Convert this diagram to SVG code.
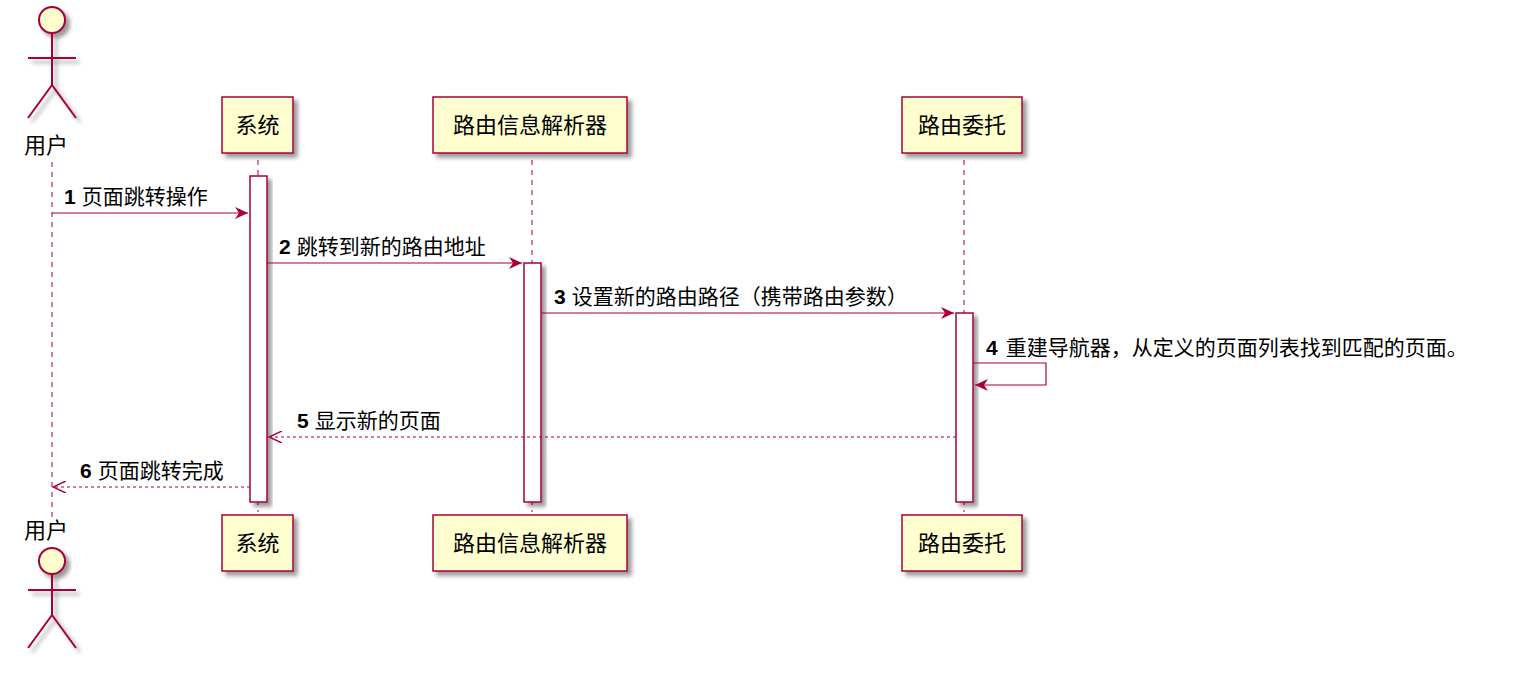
<svg xmlns="http://www.w3.org/2000/svg" width="1518" height="696" viewBox="0 0 1518 696">
<defs>
<filter id="sh" x="-20%" y="-20%" width="150%" height="150%"><feGaussianBlur in="SourceAlpha" stdDeviation="2"/><feOffset dx="4" dy="4"/><feComponentTransfer><feFuncA type="linear" slope="0.4"/></feComponentTransfer><feMerge><feMergeNode/><feMergeNode in="SourceGraphic"/></feMerge></filter>
<marker id="ar" markerWidth="14" markerHeight="12" refX="13" refY="6" orient="auto" markerUnits="userSpaceOnUse"><path d="M0,0 L13,6 L0,12 L4,6 Z" fill="#A80036"/></marker>
<marker id="op" markerWidth="14" markerHeight="12" refX="13" refY="6" orient="auto" markerUnits="userSpaceOnUse"><path d="M0,0 L13,6 L0,12" fill="none" stroke="#A80036" stroke-width="1.5"/></marker>
</defs>
<style>
.box{fill:#FEFECE;stroke:#A80036;stroke-width:1.5;filter:url(#sh)}
.act{fill:#FFFFFF;stroke:#A80036;stroke-width:1.5;filter:url(#sh)}
.life{stroke:#A80036;stroke-width:1;stroke-dasharray:5,5}
.msg{stroke:#A80036;stroke-width:1.2;fill:none}
.t{font-family:"Liberation Sans","Noto Sans CJK SC",sans-serif;font-size:22px;fill:#000}
.m{font-family:"Liberation Sans","Noto Sans CJK SC",sans-serif;font-size:21px;fill:#000}
.a{fill:#FEFECE;stroke:#A80036;stroke-width:2;filter:url(#sh)}
.al{stroke:#A80036;stroke-width:2;fill:none}
</style>
<g id="lifelines">
<line class="life" x1="52" y1="162" x2="52" y2="520"/>
<line class="life" x1="258" y1="160" x2="258" y2="512"/>
<line class="life" x1="532" y1="160" x2="532" y2="512"/>
<line class="life" x1="964" y1="160" x2="964" y2="512"/>
</g>
<g id="user">
<circle class="a" cx="52" cy="20" r="13"/>
<g filter="url(#sh)"><path class="al" d="M52,33 V85 M28,58 H76 M52,85 L28,118 M52,85 L76,118"/></g>
<text class="t" x="46" y="153" text-anchor="middle">用户</text>
<text class="t" x="46" y="538" text-anchor="middle">用户</text>
<circle class="a" cx="52" cy="561" r="13"/>
<g filter="url(#sh)"><path class="al" d="M52,574 V615 M28,590 H76 M52,615 L28,648 M52,615 L76,648"/></g>
</g>
<g id="sys">
<rect class="box" x="222" y="97" width="71" height="56"/><text class="t" x="257.5" y="133" text-anchor="middle">系统</text>
<rect class="box" x="222" y="515" width="71" height="56"/><text class="t" x="257.5" y="551" text-anchor="middle">系统</text>
<rect class="act" x="250" y="176" width="17" height="326"/>
</g>
<g id="parser">
<rect class="box" x="433" y="97" width="194" height="56"/><text class="t" x="530" y="133" text-anchor="middle">路由信息解析器</text>
<rect class="box" x="433" y="515" width="194" height="56"/><text class="t" x="530" y="551" text-anchor="middle">路由信息解析器</text>
<rect class="act" x="524" y="263" width="17" height="239"/>
</g>
<g id="delegate">
<rect class="box" x="902" y="97" width="120" height="56"/><text class="t" x="962" y="133" text-anchor="middle">路由委托</text>
<rect class="box" x="902" y="515" width="120" height="56"/><text class="t" x="962" y="551" text-anchor="middle">路由委托</text>
<rect class="act" x="956" y="313" width="17" height="189"/>
</g>
<g id="connectors">
<line class="msg" x1="52" y1="213" x2="248" y2="213" marker-end="url(#ar)"/>
<line class="msg" x1="267" y1="263" x2="522" y2="263" marker-end="url(#ar)"/>
<line class="msg" x1="541" y1="313" x2="954" y2="313" marker-end="url(#ar)"/>
<polyline class="msg" points="973,363 1046,363 1046,385 975,385" marker-end="url(#ar)"/>
<line class="msg" x1="956" y1="437" x2="269" y2="437" stroke-dasharray="3,3" marker-end="url(#op)"/>
<line class="msg" x1="250" y1="487" x2="53" y2="487" stroke-dasharray="3,3" marker-end="url(#op)"/>
</g>
<g id="labels">
<text class="m" x="64" y="204"><tspan font-weight="bold">1</tspan><tspan dx="6">页面跳转操作</tspan></text>
<text class="m" x="279" y="254"><tspan font-weight="bold">2</tspan><tspan dx="6">跳转到新的路由地址</tspan></text>
<text class="m" x="554" y="304"><tspan font-weight="bold">3</tspan><tspan dx="6">设置新的路由路径（携带路由参数）</tspan></text>
<text class="m" x="986" y="355"><tspan font-weight="bold">4</tspan><tspan dx="8">重建导航器，从定义的页面列表找到匹配的页面。</tspan></text>
<text class="m" x="297" y="428"><tspan font-weight="bold">5</tspan><tspan dx="6">显示新的页面</tspan></text>
<text class="m" x="80" y="478"><tspan font-weight="bold">6</tspan><tspan dx="6">页面跳转完成</tspan></text>
</g>
</svg>
